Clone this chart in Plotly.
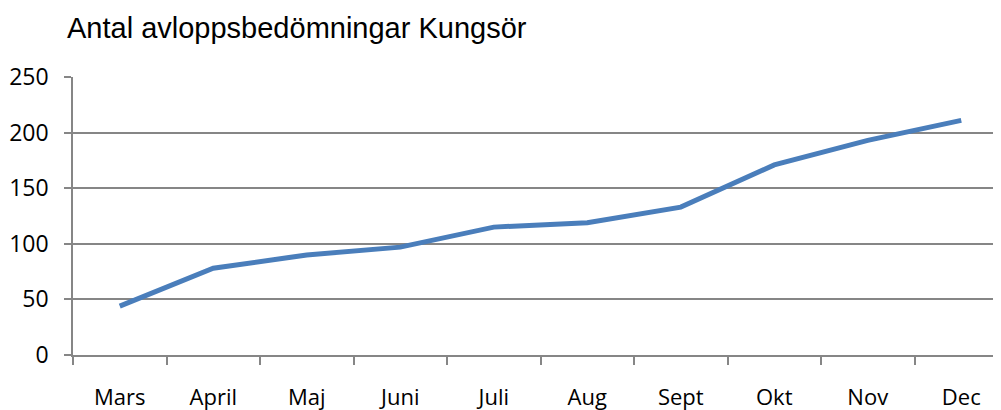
import plotly.graph_objects as go

manader = ["Mars", "April", "Maj", "Juni", "Juli", "Aug", "Sept", "Okt", "Nov", "Dec"]
antal = [44, 78, 90, 97, 115, 119, 133, 171, 193, 211]
y_ticks = [0, 50, 100, 150, 200, 250]

# sidan har 8 px marginal i body, därför är allt förskjutet 8 px
fig = go.Figure()
fig.add_trace(go.Scatter(
    x=manader,
    y=antal,
    mode="lines",
    line=dict(color="#4a7ebb", width=5),
    showlegend=False,
    hoverinfo="skip",
))

fig.update_layout(
    width=1001,
    height=410,
    margin=dict(l=65, r=8, t=69, b=63),
    paper_bgcolor="white",
    plot_bgcolor="white",
    title=dict(
        text="Antal avloppsbedömningar Kungsör",
        x=59 / 1001,
        xanchor="left",
        xref="container",
        y=1 - 20 / 410,
        yanchor="middle",
        font=dict(family="Liberation Sans, Arial", size=29, color="black"),
    ),
)

fig.update_xaxes(
    type="category",
    range=[-0.5, 9.425],
    automargin=False,
    showgrid=False,
    showline=True,
    linecolor="#868686",
    linewidth=1.5,
    ticks="outside",
    tickson="boundaries",
    ticklen=8,
    tickcolor="#868686",
    tickwidth=1.5,
    ticklabelstandoff=22,
    tickfont=dict(family="Open Sans", size=22, color="black"),
)

fig.update_yaxes(
    range=[0, 250],
    tickvals=y_ticks,
    automargin=False,
    showgrid=True,
    gridcolor="#868686",
    gridwidth=1.5,
    zeroline=False,
    showline=True,
    linecolor="#868686",
    linewidth=1.5,
    ticks="outside",
    ticklen=7,
    tickcolor="#868686",
    tickwidth=1.5,
    ticklabelstandoff=11,
    tickfont=dict(family="Open Sans", size=23, color="black"),
)

fig.write_html("out.html")
